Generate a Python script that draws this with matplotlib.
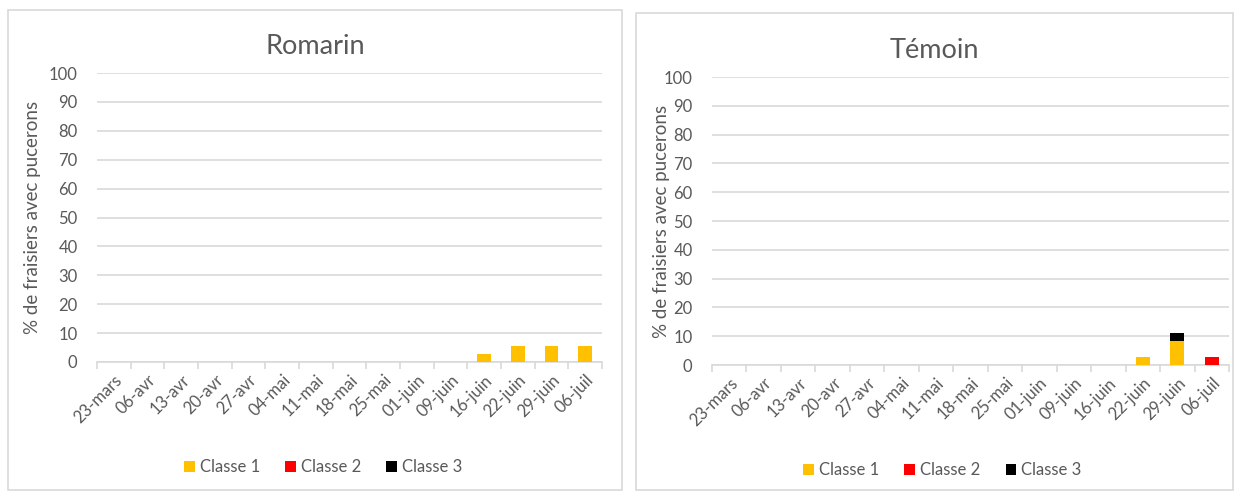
import matplotlib
matplotlib.use("Agg")
import matplotlib.pyplot as plt
from matplotlib.patches import Rectangle
import numpy as np

plt.rcParams['font.family'] = ['Lato', 'DejaVu Sans']

dates = ["23-mars", "06-avr", "13-avr", "20-avr", "27-avr", "04-mai", "11-mai",
         "18-mai", "25-mai", "01-juin", "09-juin", "16-juin", "22-juin", "29-juin", "06-juil"]

romarin_c1 = [0, 0, 0, 0, 0, 0, 0, 0, 0, 0, 0, 2.8, 5.6, 5.6, 5.6]
romarin_c2 = [0] * 15
romarin_c3 = [0] * 15

temoin_c1 = [0, 0, 0, 0, 0, 0, 0, 0, 0, 0, 0, 0, 2.8, 8.3, 0]
temoin_c2 = [0, 0, 0, 0, 0, 0, 0, 0, 0, 0, 0, 0, 0, 0, 2.8]
temoin_c3 = [0, 0, 0, 0, 0, 0, 0, 0, 0, 0, 0, 0, 0, 2.8, 0]

yticks = list(range(0, 101, 10))
series_names = ["Classe 1", "Classe 2", "Classe 3"]
colors = ["#FFC000", "#FF0000", "#000000"]

W, H = 1235, 492
fig = plt.figure(figsize=(W / 100, H / 100), dpi=100)
TXT = "#595959"
GRID = "#D9D9D9"
FS = 12


def px(x0, y0, x1, y1):
    return [x0 / W, 1 - y1 / H, (x1 - x0) / W, (y1 - y0) / H]


def panel(box, axbox, title, title_y, c1, c2, c3, legend_y, ylab_x):
    bx0, by0, bx1, by1 = box
    fig.patches.append(Rectangle((bx0 / W, 1 - by1 / H), (bx1 - bx0) / W, (by1 - by0) / H,
                                 transform=fig.transFigure, fill=False,
                                 edgecolor="#D9D9D9", linewidth=1.2))
    ax = fig.add_axes(px(*axbox))
    x = np.arange(len(dates))
    c1 = np.array(c1); c2 = np.array(c2); c3 = np.array(c3)
    h1 = ax.bar(x, c1, width=0.4, color=colors[0], zorder=3)
    h2 = ax.bar(x, c2, width=0.4, bottom=c1, color=colors[1], zorder=3)
    h3 = ax.bar(x, c3, width=0.4, bottom=c1 + c2, color=colors[2], zorder=3)
    ax.set_xlim(-0.5, len(dates) - 0.5)
    ax.set_ylim(0, 100)
    ax.set_yticks(yticks)
    ax.set_yticklabels([str(v) for v in yticks], color=TXT, fontsize=FS)
    ax.yaxis.grid(True, color=GRID, linewidth=1.2, zorder=0)
    ax.set_axisbelow(True)
    for s in ["top", "right", "left"]:
        ax.spines[s].set_visible(False)
    ax.spines["bottom"].set_color(GRID)
    ax.spines["bottom"].set_linewidth(1.2)
    ax.tick_params(axis="y", length=0, pad=14)
    ax.set_xticks(x)
    ax.set_xticklabels(dates, rotation=45, ha="right", rotation_mode="anchor",
                       color=TXT, fontsize=FS)
    ax.tick_params(axis="x", which="major", length=0, pad=7)
    ax.set_xticks(np.arange(-0.5, len(dates)), minor=True)
    ax.tick_params(axis="x", which="minor", length=5, color=GRID, width=1.2)
    fig.text(((bx0 + bx1) / 2) / W, 1 - title_y / H, title, ha="center", va="center",
             fontsize=19.5, color=TXT)
    fig.text(ylab_x / W, 1 - ((axbox[1] + axbox[3]) / 2) / H, "% de fraisiers avec pucerons",
             rotation=90, ha="center", va="center", fontsize=13.5, color=TXT)
    leg = fig.legend([h1, h2, h3], series_names, loc="center",
                     bbox_to_anchor=(((bx0 + bx1) / 2 + 8) / W, 1 - legend_y / H),
                     ncol=3, frameon=False, fontsize=FS, handlelength=0.65,
                     handleheight=0.65, handletextpad=0.3, columnspacing=1.5)
    for t in leg.get_texts():
        t.set_color(TXT)
    return ax


panel((8, 10, 622, 490), (97, 73, 602, 362), "Romarin", 46,
      romarin_c1, romarin_c2, romarin_c3, 467, 33)
panel((636, 13, 1233, 490), (712, 77, 1229, 365), "Témoin", 50,
      temoin_c1, temoin_c2, temoin_c3, 470, 661)

fig.savefig("out.png", dpi=100)
